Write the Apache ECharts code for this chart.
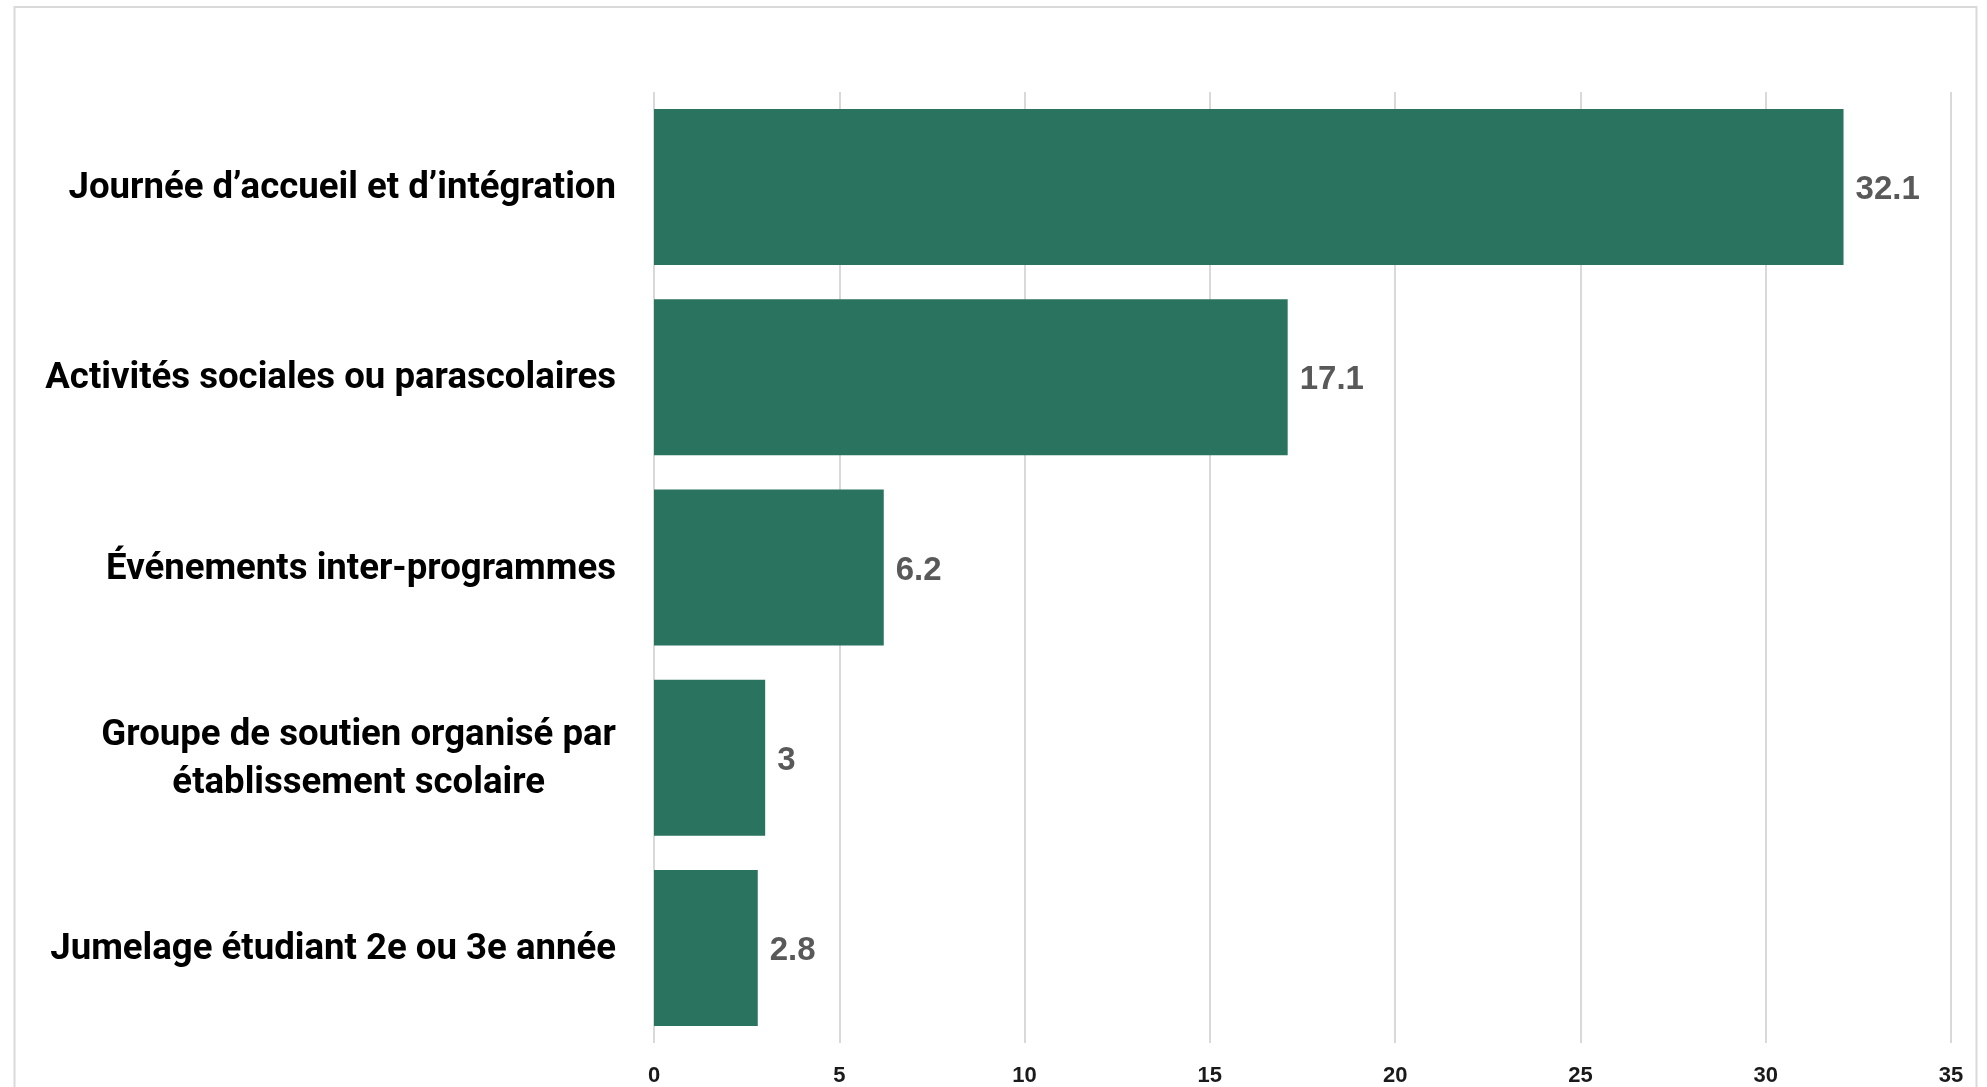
<!DOCTYPE html>
<html>
<head>
<meta charset="utf-8">
<script src="https://cdn.jsdelivr.net/npm/echarts@6/dist/echarts.min.js"></script>
<style>
  html, body { margin: 0; padding: 0; background: #ffffff; }
  #chart { width: 1987px; height: 1087px; }
</style>
</head>
<body>
<div id="chart"></div>
<script>
const categories = [
  "Journée d’accueil et d’intégration",
  "Activités sociales ou parascolaires",
  "Événements inter-programmes",
  "Groupe de soutien organisé par\nétablissement scolaire",
  "Jumelage étudiant 2e ou 3e année"
];
const values = [32.1, 17.1, 6.2, 3, 2.8];
const xTicks = { min: 0, max: 35, interval: 5 };

const chart = echarts.init(document.getElementById('chart'), null, { renderer: 'canvas' });

const option = {
  backgroundColor: '#ffffff',
  animation: false,
  graphic: [{
    type: 'rect',
    shape: { x: 14.5, y: 7, width: 1962, height: 1100 },
    style: { fill: 'none', stroke: '#d9d9d9', lineWidth: 2 },
    silent: true,
    z: -1
  }],
  grid: { left: 654, right: 36, top: 92, bottom: 44, containLabel: false },
  xAxis: {
    type: 'value',
    min: xTicks.min,
    max: xTicks.max,
    interval: xTicks.interval,
    axisLine: { show: false },
    axisTick: { show: false },
    splitLine: { show: true, lineStyle: { color: '#d9d9d9', width: 2 } },
    axisLabel: {
      color: '#1a1a1a',
      fontFamily: 'Liberation Sans, Arial, sans-serif',
      fontWeight: 'bold',
      fontSize: 22,
      margin: 22
    }
  },
  yAxis: {
    type: 'category',
    data: categories,
    inverse: true,
    axisLine: { show: false },
    axisTick: { show: false },
    splitLine: { show: false },
    axisLabel: {
      margin: 38,
      formatter: function (v) {
        return v.split('\n').map(function (s) { return '{c|' + s + '}'; }).join('\n');
      },
      rich: {
        c: {
          align: 'center',
          color: '#000000',
          fontFamily: 'Roboto, sans-serif',
          fontWeight: 'bold',
          fontSize: 36.6,
          lineHeight: 48,
          padding: [4, 0, 0, 0]
        }
      }
    }
  },
  series: [{
    type: 'bar',
    data: values,
    barCategoryGap: '18%',
    itemStyle: { color: '#2A735E' },
    label: {
      show: true,
      position: 'right',
      distance: 12,
      offset: [0, 3],
      color: '#595959',
      fontFamily: 'Liberation Sans, Arial, sans-serif',
      fontWeight: 'bold',
      fontSize: 33
    }
  }]
};

chart.setOption(option);
</script>
</body>
</html>
